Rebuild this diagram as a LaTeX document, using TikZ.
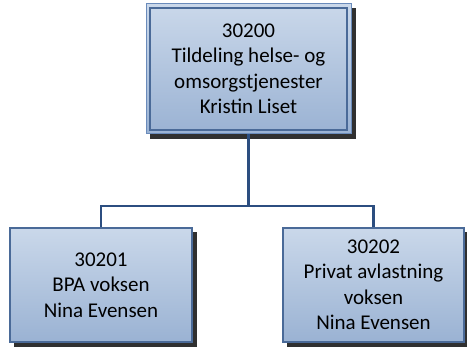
\documentclass[tikz,border=0pt]{standalone}
\usepackage{fontspec}
\setmainfont{Carlito}
\definecolor{boxtop}{HTML}{CAD8EA}
\definecolor{boxbot}{HTML}{9AB2D3}
\definecolor{boxline}{HTML}{4A6A98}
\definecolor{outerline}{HTML}{6A8BBB}
\definecolor{conn}{HTML}{2C4E80}
\definecolor{shad}{HTML}{303030}
\begin{document}
\begin{tikzpicture}[x=1pt,y=1pt,
  orgbox/.style={draw=boxline, line width=1.3pt, top color=boxtop, bottom color=boxbot,
    align=center, inner sep=0pt, font=\fontsize{21}{25.5}\selectfont,
    minimum width=#1},
  ghost/.style={minimum width=#1, inner sep=0pt},
  link/.style={draw=conn, line width=2.8pt},
  innerline/.style={draw=boxline, line width=1.3pt}]
\useasboundingbox (0,0) rectangle (467,347);
\path node[ghost=205pt, minimum height=130pt] (topS) at (248.5,278) {}
      node[ghost=182pt, minimum height=114pt] (leftS) at (101,62) {}
      node[ghost=181pt, minimum height=114pt] (rightS) at (373.5,62) {};
\fill[shad] ([shift={(4.5,-4.5)}]topS.south west) rectangle ([shift={(4.5,-4.5)}]topS.north east);
\fill[shad] ([shift={(4.5,-4.5)}]leftS.south west) rectangle ([shift={(4.5,-4.5)}]leftS.north east);
\fill[shad] ([shift={(4.5,-4.5)}]rightS.south west) rectangle ([shift={(4.5,-4.5)}]rightS.north east);
\node[orgbox=205pt, minimum height=130pt, draw=outerline, line width=1pt] (top) at (248.5,278) {30200\\Tildeling helse- og\\omsorgstjenester\\Kristin Liset};
\draw[innerline] ([shift={(4.5,4.5)}]top.south west) rectangle ([shift={(-4.5,-4.5)}]top.north east);
\node[orgbox=182pt, minimum height=114pt] (left) at (101,62) {30201\\BPA voksen\\Nina Evensen};
\node[orgbox=181pt, minimum height=114pt] (right) at (373.5,62) {30202\\Privat avlastning\\voksen\\Nina Evensen};
\coordinate (mid) at (248.5,141);
\draw[link] (top.south) -- (mid);
\draw[link] (left.north) |- (mid) -| (right.north);
\end{tikzpicture}
\end{document}
